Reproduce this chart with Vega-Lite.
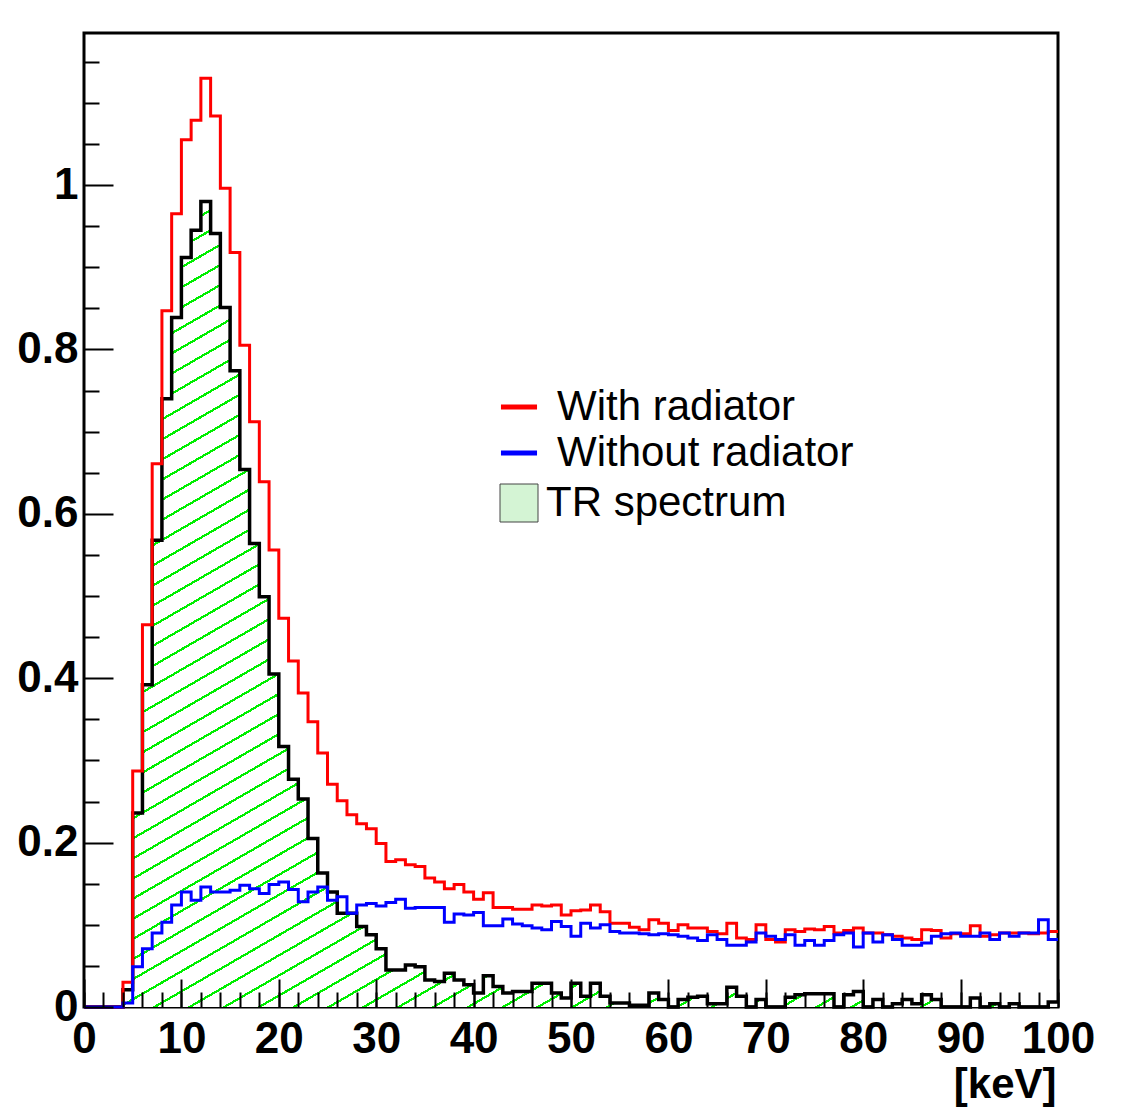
{
"$schema": "https://vega.github.io/schema/vega-lite/v6.json",
"width": 974, "height": 974,
"autosize": "none",
"padding": {"left": 84, "top": 33, "right": 81, "bottom": 100},
"background": "white",
"title": {"text": "Energy", "color": "#2a2a9a", "font": "Liberation Sans", "fontSize": 48, "fontWeight": "normal", "anchor": "middle", "frame": "group", "baseline": "alphabetic", "offset": 24, "dx": -91},
"config": {"view": {"stroke": "black", "strokeWidth": 3}},
"data": {"values": [
{"e":0,"w":0,"wo":0,"tr":0},{"e":1,"w":0,"wo":0,"tr":0},{"e":2,"w":0,"wo":0,"tr":0},{"e":3,"w":0,"wo":0,"tr":0},
{"e":4,"w":0.030,"wo":0.005,"tr":0.021},{"e":5,"w":0.287,"wo":0.049,"tr":0.236},{"e":6,"w":0.465,"wo":0.071,"tr":0.392},{"e":7,"w":0.661,"wo":0.090,"tr":0.568},
{"e":8,"w":0.847,"wo":0.103,"tr":0.740},{"e":9,"w":0.965,"wo":0.124,"tr":0.839},{"e":10,"w":1.055,"wo":0.140,"tr":0.912},{"e":11,"w":1.079,"wo":0.130,"tr":0.945},
{"e":12,"w":1.130,"wo":0.146,"tr":0.980},{"e":13,"w":1.084,"wo":0.140,"tr":0.941},{"e":14,"w":0.996,"wo":0.140,"tr":0.851},{"e":15,"w":0.918,"wo":0.142,"tr":0.774},
{"e":16,"w":0.805,"wo":0.148,"tr":0.654},{"e":17,"w":0.712,"wo":0.144,"tr":0.564},{"e":18,"w":0.639,"wo":0.138,"tr":0.499},{"e":19,"w":0.556,"wo":0.149,"tr":0.405},
{"e":20,"w":0.473,"wo":0.152,"tr":0.317},{"e":21,"w":0.421,"wo":0.143,"tr":0.277},{"e":22,"w":0.382,"wo":0.128,"tr":0.253},{"e":23,"w":0.347,"wo":0.140,"tr":0.205},
{"e":24,"w":0.309,"wo":0.146,"tr":0.163},{"e":25,"w":0.271,"wo":0.130,"tr":0.140},{"e":26,"w":0.251,"wo":0.134,"tr":0.114},{"e":27,"w":0.234,"wo":0.114,"tr":0.114},
{"e":28,"w":0.223,"wo":0.124,"tr":0.098},{"e":29,"w":0.217,"wo":0.126,"tr":0.088},{"e":30,"w":0.199,"wo":0.123,"tr":0.071},{"e":31,"w":0.177,"wo":0.127,"tr":0.045},
{"e":32,"w":0.179,"wo":0.131,"tr":0.045},{"e":33,"w":0.173,"wo":0.120,"tr":0.051},{"e":34,"w":0.171,"wo":0.121,"tr":0.049},{"e":35,"w":0.157,"wo":0.121,"tr":0.033},
{"e":36,"w":0.152,"wo":0.121,"tr":0.031},{"e":37,"w":0.144,"wo":0.103,"tr":0.041},{"e":38,"w":0.149,"wo":0.113,"tr":0.033},{"e":39,"w":0.140,"wo":0.112,"tr":0.027},
{"e":40,"w":0.131,"wo":0.115,"tr":0.017},{"e":41,"w":0.139,"wo":0.099,"tr":0.038},{"e":42,"w":0.121,"wo":0.099,"tr":0.025},{"e":43,"w":0.121,"wo":0.107,"tr":0.017},
{"e":44,"w":0.119,"wo":0.101,"tr":0.019},{"e":45,"w":0.119,"wo":0.099,"tr":0.019},{"e":46,"w":0.124,"wo":0.096,"tr":0.029},{"e":47,"w":0.123,"wo":0.094,"tr":0.029},
{"e":48,"w":0.124,"wo":0.104,"tr":0.017},{"e":49,"w":0.112,"wo":0.098,"tr":0.011},{"e":50,"w":0.117,"wo":0.086,"tr":0.029},{"e":51,"w":0.118,"wo":0.102,"tr":0.013},
{"e":52,"w":0.124,"wo":0.096,"tr":0.029},{"e":53,"w":0.116,"wo":0.100,"tr":0.013},{"e":54,"w":0.102,"wo":0.092,"tr":0.005},{"e":55,"w":0.102,"wo":0.090,"tr":0.005},
{"e":56,"w":0.097,"wo":0.090,"tr":0.002},{"e":57,"w":0.094,"wo":0.089,"tr":0.002},{"e":58,"w":0.106,"wo":0.088,"tr":0.017},{"e":59,"w":0.102,"wo":0.089,"tr":0.009},
{"e":60,"w":0.093,"wo":0.088,"tr":0},{"e":61,"w":0.100,"wo":0.086,"tr":0.009},{"e":62,"w":0.096,"wo":0.084,"tr":0.012},{"e":63,"w":0.096,"wo":0.081,"tr":0.013},
{"e":64,"w":0.092,"wo":0.088,"tr":0.004},{"e":65,"w":0.089,"wo":0.082,"tr":0.004},{"e":66,"w":0.102,"wo":0.075,"tr":0.024},{"e":67,"w":0.084,"wo":0.075,"tr":0.013},
{"e":68,"w":0.082,"wo":0.079,"tr":0},{"e":69,"w":0.100,"wo":0.090,"tr":0.009},{"e":70,"w":0.082,"wo":0.086,"tr":0},{"e":71,"w":0.079,"wo":0.082,"tr":0},
{"e":72,"w":0.094,"wo":0.088,"tr":0.012},{"e":73,"w":0.092,"wo":0.075,"tr":0.015},{"e":74,"w":0.095,"wo":0.081,"tr":0.016},{"e":75,"w":0.094,"wo":0.075,"tr":0.016},
{"e":76,"w":0.098,"wo":0.081,"tr":0.016},{"e":77,"w":0.090,"wo":0.088,"tr":0},{"e":78,"w":0.093,"wo":0.090,"tr":0.015},{"e":79,"w":0.096,"wo":0.073,"tr":0.019},
{"e":80,"w":0.090,"wo":0.090,"tr":0},{"e":81,"w":0.090,"wo":0.079,"tr":0.009},{"e":82,"w":0.088,"wo":0.088,"tr":0},{"e":83,"w":0.086,"wo":0.082,"tr":0.004},
{"e":84,"w":0.084,"wo":0.075,"tr":0.009},{"e":85,"w":0.082,"wo":0.075,"tr":0.004},{"e":86,"w":0.094,"wo":0.078,"tr":0.015},{"e":87,"w":0.093,"wo":0.086,"tr":0.009},
{"e":88,"w":0.084,"wo":0.089,"tr":0},{"e":89,"w":0.089,"wo":0.090,"tr":0},{"e":90,"w":0.089,"wo":0.086,"tr":0},{"e":91,"w":0.099,"wo":0.086,"tr":0.011},
{"e":92,"w":0.086,"wo":0.090,"tr":0},{"e":93,"w":0.088,"wo":0.082,"tr":0.004},{"e":94,"w":0.090,"wo":0.090,"tr":0},{"e":95,"w":0.090,"wo":0.086,"tr":0.004},
{"e":96,"w":0.090,"wo":0.090,"tr":0},{"e":97,"w":0.089,"wo":0.090,"tr":0},{"e":98,"w":0.090,"wo":0.106,"tr":0},{"e":99,"w":0.092,"wo":0.082,"tr":0.006},
{"e":100,"w":0.092,"wo":0.082,"tr":0.006}
]},
"layer": [
{
"mark": {"type": "area", "interpolate": "step-after", "opacity": 1},
"encoding": {
"x": {"field": "e", "type": "quantitative", "scale": {"domain": [0, 100], "nice": false, "zero": false},
 "axis": {"orient": "bottom", "values": [0,10,20,30,40,50,60,70,80,90,100], "format": "d", "domain": false, "grid": false, "tickSize": -28, "tickWidth": 2, "tickColor": "black", "labelFont": "Liberation Sans", "labelFontWeight": "bold", "labelFontSize": 44, "labelColor": "black", "labelPadding": 38, "labelFlush": false, "labelOverlap": false, "labelBound": false, "title": "[keV]", "titleFont": "Liberation Sans", "titleFontWeight": "bold", "titleFontSize": 42, "titleColor": "black", "titleAnchor": "end", "titleAlign": "right", "titleBaseline": "alphabetic", "titleX": 972, "titleY": 90, "zindex": 1}},
"y": {"field": "tr", "type": "quantitative", "scale": {"domain": [0, 1.185], "nice": false},
 "axis": {"orient": "left", "values": [0,0.2,0.4,0.6,0.8,1], "format": "~g", "domain": false, "grid": false, "tickSize": -29, "tickWidth": 2, "tickColor": "black", "labelFont": "Liberation Sans", "labelFontWeight": "bold", "labelFontSize": 44, "labelColor": "black", "labelPadding": 35, "labelFlush": false, "labelOverlap": false, "labelBound": false, "title": null, "zindex": 1}},
"fill": {"datum": "TR spectrum", "type": "nominal",
 "scale": {"domain": ["TR spectrum"], "range": ["#d4f4d4"]},
 "condition": {"test": "true", "value": {"gradient": "linear", "x1": 0, "y1": 0, "x2": 0.797, "y2": 1.142, "stops": [
{"offset":0,"color":"#0e0"},{"offset":0.0019,"color":"#0e0"},{"offset":0.0019,"color":"#fff"},{"offset":0.0147,"color":"#fff"},
{"offset":0.0147,"color":"#0e0"},{"offset":0.0166,"color":"#0e0"},{"offset":0.0166,"color":"#fff"},{"offset":0.0294,"color":"#fff"},
{"offset":0.0294,"color":"#0e0"},{"offset":0.0313,"color":"#0e0"},{"offset":0.0313,"color":"#fff"},{"offset":0.0441,"color":"#fff"},
{"offset":0.0441,"color":"#0e0"},{"offset":0.0460,"color":"#0e0"},{"offset":0.0460,"color":"#fff"},{"offset":0.0588,"color":"#fff"},
{"offset":0.0588,"color":"#0e0"},{"offset":0.0607,"color":"#0e0"},{"offset":0.0607,"color":"#fff"},{"offset":0.0735,"color":"#fff"},
{"offset":0.0735,"color":"#0e0"},{"offset":0.0754,"color":"#0e0"},{"offset":0.0754,"color":"#fff"},{"offset":0.0882,"color":"#fff"},
{"offset":0.0882,"color":"#0e0"},{"offset":0.0901,"color":"#0e0"},{"offset":0.0901,"color":"#fff"},{"offset":0.1029,"color":"#fff"},
{"offset":0.1029,"color":"#0e0"},{"offset":0.1048,"color":"#0e0"},{"offset":0.1048,"color":"#fff"},{"offset":0.1176,"color":"#fff"},
{"offset":0.1176,"color":"#0e0"},{"offset":0.1195,"color":"#0e0"},{"offset":0.1195,"color":"#fff"},{"offset":0.1324,"color":"#fff"},
{"offset":0.1324,"color":"#0e0"},{"offset":0.1343,"color":"#0e0"},{"offset":0.1343,"color":"#fff"},{"offset":0.1471,"color":"#fff"},
{"offset":0.1471,"color":"#0e0"},{"offset":0.1490,"color":"#0e0"},{"offset":0.1490,"color":"#fff"},{"offset":0.1618,"color":"#fff"},
{"offset":0.1618,"color":"#0e0"},{"offset":0.1637,"color":"#0e0"},{"offset":0.1637,"color":"#fff"},{"offset":0.1765,"color":"#fff"},
{"offset":0.1765,"color":"#0e0"},{"offset":0.1784,"color":"#0e0"},{"offset":0.1784,"color":"#fff"},{"offset":0.1912,"color":"#fff"},
{"offset":0.1912,"color":"#0e0"},{"offset":0.1931,"color":"#0e0"},{"offset":0.1931,"color":"#fff"},{"offset":0.2059,"color":"#fff"},
{"offset":0.2059,"color":"#0e0"},{"offset":0.2078,"color":"#0e0"},{"offset":0.2078,"color":"#fff"},{"offset":0.2206,"color":"#fff"},
{"offset":0.2206,"color":"#0e0"},{"offset":0.2225,"color":"#0e0"},{"offset":0.2225,"color":"#fff"},{"offset":0.2353,"color":"#fff"},
{"offset":0.2353,"color":"#0e0"},{"offset":0.2372,"color":"#0e0"},{"offset":0.2372,"color":"#fff"},{"offset":0.2500,"color":"#fff"},
{"offset":0.2500,"color":"#0e0"},{"offset":0.2519,"color":"#0e0"},{"offset":0.2519,"color":"#fff"},{"offset":0.2647,"color":"#fff"},
{"offset":0.2647,"color":"#0e0"},{"offset":0.2666,"color":"#0e0"},{"offset":0.2666,"color":"#fff"},{"offset":0.2794,"color":"#fff"},
{"offset":0.2794,"color":"#0e0"},{"offset":0.2813,"color":"#0e0"},{"offset":0.2813,"color":"#fff"},{"offset":0.2941,"color":"#fff"},
{"offset":0.2941,"color":"#0e0"},{"offset":0.2960,"color":"#0e0"},{"offset":0.2960,"color":"#fff"},{"offset":0.3088,"color":"#fff"},
{"offset":0.3088,"color":"#0e0"},{"offset":0.3107,"color":"#0e0"},{"offset":0.3107,"color":"#fff"},{"offset":0.3235,"color":"#fff"},
{"offset":0.3235,"color":"#0e0"},{"offset":0.3254,"color":"#0e0"},{"offset":0.3254,"color":"#fff"},{"offset":0.3382,"color":"#fff"},
{"offset":0.3382,"color":"#0e0"},{"offset":0.3401,"color":"#0e0"},{"offset":0.3401,"color":"#fff"},{"offset":0.3529,"color":"#fff"},
{"offset":0.3529,"color":"#0e0"},{"offset":0.3548,"color":"#0e0"},{"offset":0.3548,"color":"#fff"},{"offset":0.3676,"color":"#fff"},
{"offset":0.3676,"color":"#0e0"},{"offset":0.3695,"color":"#0e0"},{"offset":0.3695,"color":"#fff"},{"offset":0.3824,"color":"#fff"},
{"offset":0.3824,"color":"#0e0"},{"offset":0.3843,"color":"#0e0"},{"offset":0.3843,"color":"#fff"},{"offset":0.3971,"color":"#fff"},
{"offset":0.3971,"color":"#0e0"},{"offset":0.3990,"color":"#0e0"},{"offset":0.3990,"color":"#fff"},{"offset":0.4118,"color":"#fff"},
{"offset":0.4118,"color":"#0e0"},{"offset":0.4137,"color":"#0e0"},{"offset":0.4137,"color":"#fff"},{"offset":0.4265,"color":"#fff"},
{"offset":0.4265,"color":"#0e0"},{"offset":0.4284,"color":"#0e0"},{"offset":0.4284,"color":"#fff"},{"offset":0.4412,"color":"#fff"},
{"offset":0.4412,"color":"#0e0"},{"offset":0.4431,"color":"#0e0"},{"offset":0.4431,"color":"#fff"},{"offset":0.4559,"color":"#fff"},
{"offset":0.4559,"color":"#0e0"},{"offset":0.4578,"color":"#0e0"},{"offset":0.4578,"color":"#fff"},{"offset":0.4706,"color":"#fff"},
{"offset":0.4706,"color":"#0e0"},{"offset":0.4725,"color":"#0e0"},{"offset":0.4725,"color":"#fff"},{"offset":0.4853,"color":"#fff"},
{"offset":0.4853,"color":"#0e0"},{"offset":0.4872,"color":"#0e0"},{"offset":0.4872,"color":"#fff"},{"offset":0.5000,"color":"#fff"},
{"offset":0.5000,"color":"#0e0"},{"offset":0.5019,"color":"#0e0"},{"offset":0.5019,"color":"#fff"},{"offset":0.5147,"color":"#fff"},
{"offset":0.5147,"color":"#0e0"},{"offset":0.5166,"color":"#0e0"},{"offset":0.5166,"color":"#fff"},{"offset":0.5294,"color":"#fff"},
{"offset":0.5294,"color":"#0e0"},{"offset":0.5313,"color":"#0e0"},{"offset":0.5313,"color":"#fff"},{"offset":0.5441,"color":"#fff"},
{"offset":0.5441,"color":"#0e0"},{"offset":0.5460,"color":"#0e0"},{"offset":0.5460,"color":"#fff"},{"offset":0.5588,"color":"#fff"},
{"offset":0.5588,"color":"#0e0"},{"offset":0.5607,"color":"#0e0"},{"offset":0.5607,"color":"#fff"},{"offset":0.5735,"color":"#fff"},
{"offset":0.5735,"color":"#0e0"},{"offset":0.5754,"color":"#0e0"},{"offset":0.5754,"color":"#fff"},{"offset":0.5882,"color":"#fff"},
{"offset":0.5882,"color":"#0e0"},{"offset":0.5901,"color":"#0e0"},{"offset":0.5901,"color":"#fff"},{"offset":0.6029,"color":"#fff"},
{"offset":0.6029,"color":"#0e0"},{"offset":0.6048,"color":"#0e0"},{"offset":0.6048,"color":"#fff"},{"offset":0.6176,"color":"#fff"},
{"offset":0.6176,"color":"#0e0"},{"offset":0.6195,"color":"#0e0"},{"offset":0.6195,"color":"#fff"},{"offset":0.6324,"color":"#fff"},
{"offset":0.6324,"color":"#0e0"},{"offset":0.6343,"color":"#0e0"},{"offset":0.6343,"color":"#fff"},{"offset":0.6471,"color":"#fff"},
{"offset":0.6471,"color":"#0e0"},{"offset":0.6490,"color":"#0e0"},{"offset":0.6490,"color":"#fff"},{"offset":0.6618,"color":"#fff"},
{"offset":0.6618,"color":"#0e0"},{"offset":0.6637,"color":"#0e0"},{"offset":0.6637,"color":"#fff"},{"offset":0.6765,"color":"#fff"},
{"offset":0.6765,"color":"#0e0"},{"offset":0.6784,"color":"#0e0"},{"offset":0.6784,"color":"#fff"},{"offset":0.6912,"color":"#fff"},
{"offset":0.6912,"color":"#0e0"},{"offset":0.6931,"color":"#0e0"},{"offset":0.6931,"color":"#fff"},{"offset":0.7059,"color":"#fff"},
{"offset":0.7059,"color":"#0e0"},{"offset":0.7078,"color":"#0e0"},{"offset":0.7078,"color":"#fff"},{"offset":0.7206,"color":"#fff"},
{"offset":0.7206,"color":"#0e0"},{"offset":0.7225,"color":"#0e0"},{"offset":0.7225,"color":"#fff"},{"offset":0.7353,"color":"#fff"},
{"offset":0.7353,"color":"#0e0"},{"offset":0.7372,"color":"#0e0"},{"offset":0.7372,"color":"#fff"},{"offset":0.7500,"color":"#fff"},
{"offset":0.7500,"color":"#0e0"},{"offset":0.7519,"color":"#0e0"},{"offset":0.7519,"color":"#fff"},{"offset":0.7647,"color":"#fff"},
{"offset":0.7647,"color":"#0e0"},{"offset":0.7666,"color":"#0e0"},{"offset":0.7666,"color":"#fff"},{"offset":0.7794,"color":"#fff"},
{"offset":0.7794,"color":"#0e0"},{"offset":0.7813,"color":"#0e0"},{"offset":0.7813,"color":"#fff"},{"offset":0.7941,"color":"#fff"},
{"offset":0.7941,"color":"#0e0"},{"offset":0.7960,"color":"#0e0"},{"offset":0.7960,"color":"#fff"},{"offset":0.8088,"color":"#fff"},
{"offset":0.8088,"color":"#0e0"},{"offset":0.8107,"color":"#0e0"},{"offset":0.8107,"color":"#fff"},{"offset":0.8235,"color":"#fff"},
{"offset":0.8235,"color":"#0e0"},{"offset":0.8254,"color":"#0e0"},{"offset":0.8254,"color":"#fff"},{"offset":0.8382,"color":"#fff"},
{"offset":0.8382,"color":"#0e0"},{"offset":0.8401,"color":"#0e0"},{"offset":0.8401,"color":"#fff"},{"offset":0.8529,"color":"#fff"},
{"offset":0.8529,"color":"#0e0"},{"offset":0.8548,"color":"#0e0"},{"offset":0.8548,"color":"#fff"},{"offset":0.8676,"color":"#fff"},
{"offset":0.8676,"color":"#0e0"},{"offset":0.8695,"color":"#0e0"},{"offset":0.8695,"color":"#fff"},{"offset":0.8824,"color":"#fff"},
{"offset":0.8824,"color":"#0e0"},{"offset":0.8843,"color":"#0e0"},{"offset":0.8843,"color":"#fff"},{"offset":0.8971,"color":"#fff"},
{"offset":0.8971,"color":"#0e0"},{"offset":0.8990,"color":"#0e0"},{"offset":0.8990,"color":"#fff"},{"offset":0.9118,"color":"#fff"},
{"offset":0.9118,"color":"#0e0"},{"offset":0.9137,"color":"#0e0"},{"offset":0.9137,"color":"#fff"},{"offset":0.9265,"color":"#fff"},
{"offset":0.9265,"color":"#0e0"},{"offset":0.9284,"color":"#0e0"},{"offset":0.9284,"color":"#fff"},{"offset":0.9412,"color":"#fff"},
{"offset":0.9412,"color":"#0e0"},{"offset":0.9431,"color":"#0e0"},{"offset":0.9431,"color":"#fff"},{"offset":0.9559,"color":"#fff"},
{"offset":0.9559,"color":"#0e0"},{"offset":0.9578,"color":"#0e0"},{"offset":0.9578,"color":"#fff"},{"offset":0.9706,"color":"#fff"},
{"offset":0.9706,"color":"#0e0"},{"offset":0.9725,"color":"#0e0"},{"offset":0.9725,"color":"#fff"},{"offset":0.9853,"color":"#fff"},
{"offset":0.9853,"color":"#0e0"},{"offset":0.9872,"color":"#0e0"},{"offset":0.9872,"color":"#fff"},{"offset":1,"color":"#fff"}
]}},
 "legend": {"orient": "none", "legendX": 414, "legendY": 449, "title": null, "padding": 0, "symbolType": "square", "symbolSize": 1444, "symbolStrokeColor": "#444444", "symbolStrokeWidth": 1, "labelFont": "Liberation Sans", "labelFontSize": 42, "labelColor": "black", "labelOffset": 6, "labelLimit": 0}
}
}
},
{
"mark": {"type": "line", "interpolate": "step-after", "color": "black", "strokeWidth": 3.5},
"encoding": {
"x": {"field": "e", "type": "quantitative", "axis": {"orient": "bottom", "values": [0,2,4,6,8,10,12,14,16,18,20,22,24,26,28,30,32,34,36,38,40,42,44,46,48,50,52,54,56,58,60,62,64,66,68,70,72,74,76,78,80,82,84,86,88,90,92,94,96,98,100], "labels": false, "domain": false, "grid": false, "tickSize": -15, "tickWidth": 2, "tickColor": "black", "title": null, "zindex": 1}},
"y": {"field": "tr", "type": "quantitative", "axis": {"orient": "left", "values": [0.05,0.1,0.15,0.25,0.3,0.35,0.45,0.5,0.55,0.65,0.7,0.75,0.85,0.9,0.95,1.05,1.1,1.15], "labels": false, "domain": false, "grid": false, "tickSize": -15, "tickWidth": 2, "tickColor": "black", "title": null, "zindex": 1}}
}
},
{
"mark": {"type": "line", "interpolate": "step-after", "strokeWidth": 3},
"encoding": {
"x": {"field": "e", "type": "quantitative", "axis": null},
"y": {"field": "w", "type": "quantitative", "axis": null},
"stroke": {"datum": "With radiator", "type": "nominal", "scale": {"domain": ["With radiator", "Without radiator"], "range": ["#ff0000", "#0000ff"]},
 "legend": {"orient": "none", "legendX": 414, "legendY": 353, "title": null, "padding": 0, "symbolType": "stroke", "symbolSize": 1300, "symbolStrokeWidth": 5, "labelFont": "Liberation Sans", "labelFontSize": 42, "labelColor": "black", "labelOffset": 17, "labelLimit": 0, "rowPadding": 4}}
}
},
{
"mark": {"type": "line", "interpolate": "step-after", "strokeWidth": 3},
"encoding": {
"x": {"field": "e", "type": "quantitative", "axis": null},
"y": {"field": "wo", "type": "quantitative", "axis": null},
"stroke": {"datum": "Without radiator", "type": "nominal"}
}
}
],
"resolve": {"axis": {"x": "independent", "y": "independent"}}
}
